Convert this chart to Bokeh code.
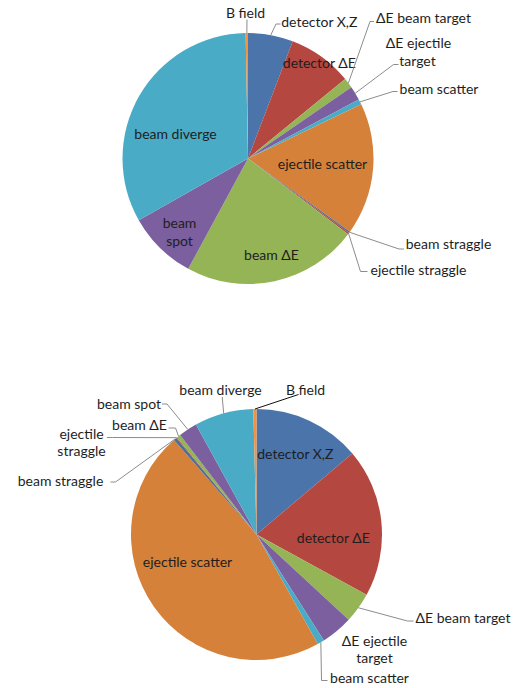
import math
from bokeh.plotting import figure
from bokeh.models import Range1d
from bokeh.core.properties import value
from bokeh.embed import file_html
from bokeh.resources import INLINE

# ---------------- data ----------------
categories = ["detector X,Z", "detector ΔE", "ΔE beam target", "ΔE ejectile target",
              "beam scatter", "ejectile scatter", "beam straggle", "ejectile straggle",
              "beam ΔE", "beam spot", "beam diverge", "B field"]
top_values = [5.8, 8.3, 1.3, 1.8, 0.7, 17.0, 0.2, 0.2, 22.6, 8.9, 32.9, 0.3]
bottom_values = [13.8, 19.1, 3.9, 4.1, 0.9, 46.6, 0.4, 0.1, 0.5, 2.4, 7.6, 0.4]
slice_colors = ["#4A74AA", "#B4473F", "#94B455", "#7B5F9F", "#4AABC6", "#D5813A",
                "#4F6E96", "#B4473F", "#94B455", "#7B5F9F", "#4AABC6", "#F4923F"]

# ---------------- layout ----------------
W, H = 513, 688
PAGE_H = 688
FONT = value("Lato")
FS = "14px"
TXT = "#1E1E1E"
LEAD = "#8C8C8C"

p = figure(width=W, height=H, x_range=Range1d(0, W),
           y_range=Range1d(PAGE_H - H, PAGE_H),
           output_backend="svg", toolbar_location=None, min_border=0)
p.axis.visible = False
p.grid.visible = False
p.outline_line_color = None


def Y(y_page):
    return PAGE_H - y_page


def draw_pie(cx, cy, r, values):
    total = float(sum(values))
    cum = 0.0
    starts, ends = [], []
    for v in values:
        a0 = cum / total * 2 * math.pi
        cum += v
        a1 = cum / total * 2 * math.pi
        starts.append(math.pi / 2 - a1)
        ends.append(math.pi / 2 - a0)
    p.wedge(x=cx, y=Y(cy), radius=r, start_angle=starts, end_angle=ends,
            fill_color=slice_colors, line_color=None)


def anchor(cx, cy, r, values, i):
    total = float(sum(values))
    mid = (sum(values[:i]) + values[i] / 2.0) / total * 2 * math.pi
    return (cx + r * math.sin(mid), cy - r * math.cos(mid))


def labels(items):
    p.text(x=[it[1] for it in items], y=[Y(it[2]) for it in items],
           text=[it[0] for it in items], text_font=FONT, text_font_size=FS,
           text_align="center", text_baseline="middle", text_color=TXT)


def leaders(specs, pie, color=LEAD):
    cx, cy, r, values = pie
    xs, ys = [], []
    for pts, idx in specs:
        ax, ay = anchor(cx, cy, r, values, idx)
        pts = list(pts) + [(ax, ay)]
        xs.append([q[0] for q in pts])
        ys.append([Y(q[1]) for q in pts])
    p.multi_line(xs=xs, ys=ys, line_color=color, line_width=1)


# ---------------- top pie ----------------
TOP = (247.5, 158, 125.5, top_values)
draw_pie(*TOP)
labels([
    ("B field", 245, 12),
    ("detector X,Z", 319, 21),
    ("detector ΔE", 319, 62),
    ("ΔE beam target", 423, 17),
    ("ΔE ejectile", 418, 42),
    ("target", 417, 60),
    ("beam scatter", 438.5, 87.5),
    ("ejectile scatter", 322, 163),
    ("beam straggle", 448, 242.5),
    ("ejectile straggle", 418, 268.5),
    ("beam ΔE", 271, 254),
    ("beam", 179, 222),
    ("spot", 179, 240),
    ("beam diverge", 175, 133),
])
leaders([
    ([(246.5, 19)], 11),
    ([(280, 23.5), (275.5, 23.5)], 0),
    ([(373.5, 21), (369.5, 21)], 2),
    ([(398, 64), (393, 64)], 3),
    ([(397, 91), (392.5, 91)], 4),
    ([(403.5, 248.5), (398.5, 248.5)], 6),
    ([(367, 271), (360, 271)], 7),
], TOP)

# ---------------- bottom pie ----------------
BOT = (256, 534, 125.5, bottom_values)
draw_pie(*BOT)
labels([
    ("beam diverge", 220, 388.5),
    ("B field", 305, 388.5),
    ("beam spot", 128.5, 402.5),
    ("beam ΔE", 139, 423.5),
    ("ejectile", 81, 433),
    ("straggle", 81, 450),
    ("beam straggle", 60, 480),
    ("detector X,Z", 295, 453),
    ("detector ΔE", 333, 537),
    ("ejectile scatter", 187, 561),
    ("ΔE beam target", 462.5, 617),
    ("ΔE ejectile", 374, 640),
    ("target", 374, 657),
    ("beam scatter", 369, 677),
])
leaders([
    ([(221.7, 396.5)], 10),
    ([(161.5, 403.5), (166.5, 403.5)], 9),
    ([(168, 427.5), (175, 427.5)], 8),
    ([(106.5, 437), (112, 437)], 7),
    ([(110, 481.5), (115, 481.5)], 6),
    ([(413, 620.5), (407, 620.5)], 2),
    ([(327, 680), (321, 680)], 4),
], BOT)
leaders([([(298, 394)], 11)], BOT, color="#111111")

open("out.html", "w").write(file_html(p, INLINE))
